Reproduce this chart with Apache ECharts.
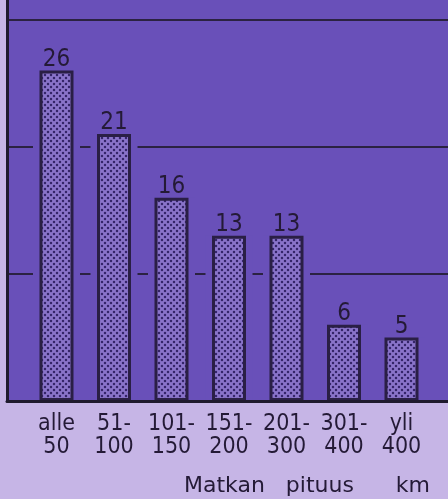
<!DOCTYPE html>
<html>
<head>
<meta charset="utf-8">
<script src="https://cdn.jsdelivr.net/npm/echarts@6/dist/echarts.min.js"></script>
<style>
html, body { margin: 0; padding: 0; background: #c6b5e6; }
#chart { width: 448px; height: 499px; }
</style>
</head>
<body>
<div id="chart"></div>
<script>
var categories = ['alle\n50', '51-\n100', '101-\n150', '151-\n200', '201-\n300', '301-\n400', 'yli\n400'];
var counts = [26, 21, 16, 13, 13, 6, 5];
var yMax = 31.55;
var axisTitle = 'Matkan   pituus      km';

var purple = '#6950b9';
var lavender = '#c6b5e6';
var ink = '#241a36';
var labelFont = '"DejaVu Sans Condensed", "DejaVu Sans", sans-serif';

// dotted fill of the bars
function dotPattern() {
    var c = document.createElement('canvas');
    c.width = 6;
    c.height = 6;
    var ctx = c.getContext('2d');
    ctx.fillStyle = '#8a74ca';
    ctx.fillRect(0, 0, 6, 6);
    ctx.fillStyle = '#35266a';
    [[0, 0], [6, 0], [0, 6], [6, 6], [3, 3]].forEach(function (p) {
        ctx.beginPath();
        ctx.arc(p[0], p[1], 1.25, 0, Math.PI * 2);
        ctx.fill();
    });
    return c;
}

var chart = echarts.init(document.getElementById('chart'));

var option = {
    backgroundColor: lavender,
    animation: false,
    title: {
        text: axisTitle,
        left: 184,
        top: 474,
        padding: 0,
        textStyle: {
            fontFamily: '"DejaVu Sans", sans-serif',
            fontSize: 22,
            fontWeight: 'normal',
            color: ink,
            lineHeight: 24
        }
    },
    grid: [
        { left: 7, right: 0, top: 0, bottom: 98, show: true, backgroundColor: purple, borderWidth: 0 },
        { left: 27.75, right: 17.75, top: 0, bottom: 98 }
    ],
    xAxis: [
        {
            type: 'value', gridIndex: 0, min: 0, max: 1, z: 5,
            axisLine: { show: true, lineStyle: { color: '#1f1a2e', width: 3 } },
            axisTick: { show: false },
            axisLabel: { show: false },
            splitLine: { show: false }
        },
        {
            type: 'category', gridIndex: 1, data: categories, boundaryGap: true,
            axisLine: { show: false },
            axisTick: { show: false },
            axisLabel: {
                interval: 0,
                margin: 11,
                color: ink,
                fontFamily: labelFont,
                fontSize: 23,
                lineHeight: 23.5
            }
        }
    ],
    yAxis: [
        {
            type: 'value', gridIndex: 0, min: 0, max: yMax, interval: 10,
            axisLine: { show: true, lineStyle: { color: '#1f1a2e', width: 3 } },
            axisTick: { show: false },
            axisLabel: { show: false },
            splitLine: {
                show: true,
                showMinLine: false,
                showMaxLine: false,
                lineStyle: { color: '#2b2242', width: 2 }
            }
        },
        { type: 'value', gridIndex: 1, min: 0, max: yMax, show: false }
    ],
    series: [
        {
            // purple gap that cuts the grid lines next to each bar
            type: 'custom',
            xAxisIndex: 1,
            yAxisIndex: 1,
            silent: true,
            data: counts.map(function (v, i) { return [i, v]; }),
            renderItem: function (params, api) {
                var top = api.coord([api.value(0), api.value(1)]);
                var base = api.coord([api.value(0), 0]);
                return {
                    type: 'rect',
                    shape: { x: top[0] - 23.5, y: top[1], width: 47, height: base[1] - top[1] },
                    style: { fill: purple }
                };
            }
        },
        {
            type: 'bar',
            xAxisIndex: 1,
            yAxisIndex: 1,
            data: counts,
            barWidth: 34,
            silent: true,
            itemStyle: {
                color: { image: dotPattern(), repeat: 'repeat' },
                borderColor: '#2a1f45',
                borderWidth: 3
            },
            label: {
                show: true,
                position: 'top',
                distance: -1,
                color: ink,
                fontFamily: labelFont,
                fontSize: 24
            }
        }
    ]
};

chart.setOption(option);
</script>
</body>
</html>
